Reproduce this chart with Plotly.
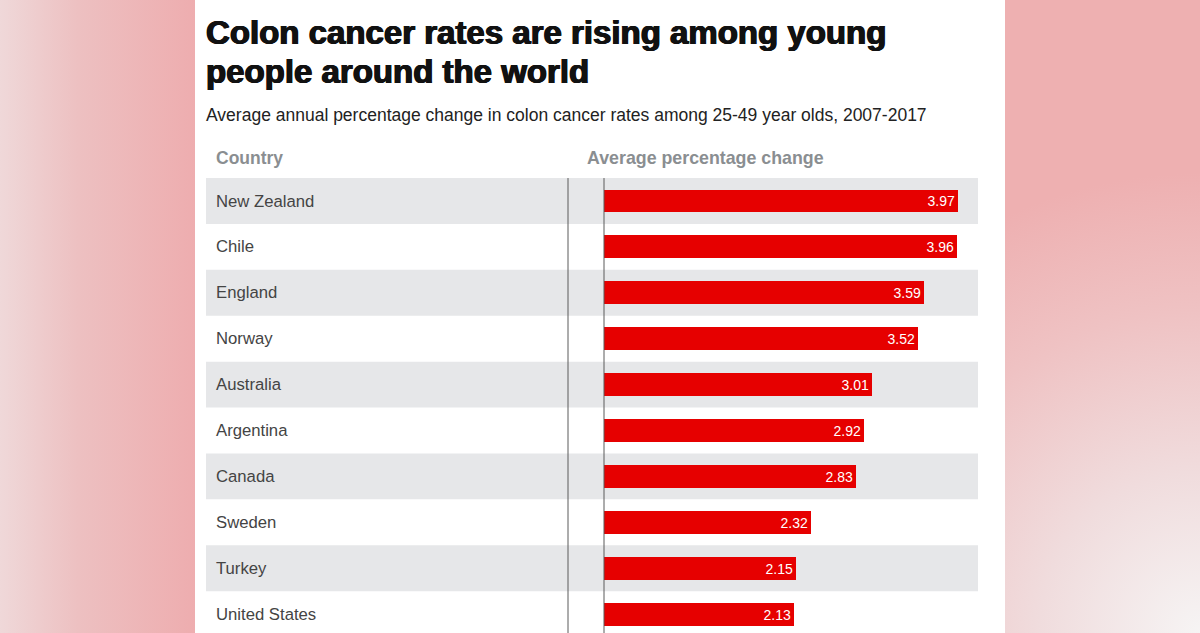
import base64
import plotly.graph_objects as go

countries = ["New Zealand", "Chile", "England", "Norway", "Australia",
             "Argentina", "Canada", "Sweden", "Turkey", "United States"]
values = [3.97, 3.96, 3.59, 3.52, 3.01, 2.92, 2.83, 2.32, 2.15, 2.13]

title_lines = ["Colon cancer rates are rising among young", "people around the world"]
subtitle = "Average annual percentage change in colon cancer rates among 25-49 year olds, 2007-2017"
col_headers = ["Country", "Average percentage change"]

W, H = 1200, 633
FONT = "Liberation Sans, Arial, sans-serif"

svg = f'''<svg xmlns="http://www.w3.org/2000/svg" width="{W}" height="{H}" viewBox="0 0 {W} {H}">
<defs>
<linearGradient id="gl" x1="0" y1="0" x2="1" y2="0">
<stop offset="0" stop-color="#efd8d9"/><stop offset="0.4" stop-color="#edc0c1"/><stop offset="1" stop-color="#eeadaf"/>
</linearGradient>
<radialGradient id="gr" gradientUnits="userSpaceOnUse" cx="1200" cy="633" r="460">
<stop offset="0" stop-color="#f6f4f4"/><stop offset="0.35" stop-color="#f0dcdd"/><stop offset="0.7" stop-color="#efc2c3"/><stop offset="1" stop-color="#eeb0b1"/>
</radialGradient>
</defs>
<rect x="0" y="0" width="195" height="{H}" fill="url(#gl)"/>
<rect x="1005" y="0" width="195" height="{H}" fill="url(#gr)"/>
<rect x="195" y="0" width="810" height="{H}" fill="#ffffff"/>
</svg>'''
src = "data:image/svg+xml;base64," + base64.b64encode(svg.encode()).decode()

# pixel geometry
x_zero = 604
px_per_unit = 89.2
x_right = 978
row0_center = 201
row_h = 45.9

fig = go.Figure()
fig.add_trace(go.Bar(
    x=values, y=countries, orientation="h",
    marker=dict(color="#e60000", line=dict(width=0)),
    width=0.5,
    text=[f"{v:.2f}" for v in values],
    textposition="inside", insidetextanchor="end",
    textfont=dict(color="white", size=14, family=FONT),
    hoverinfo="skip",
))

shapes = []
for i, c in enumerate(countries):
    if i % 2 == 0:
        shapes.append(dict(type="rect", xref="paper", yref="y",
                           x0=206 / W, x1=x_right / W, y0=i - 0.5, y1=i + 0.5,
                           fillcolor="#e6e7e9", line=dict(width=0), layer="below"))
y_top = -0.5
y_bot = len(countries) + 0.5
for xp in (568, x_zero):
    shapes.append(dict(type="line", xref="paper", yref="y",
                       x0=xp / W, x1=xp / W, y0=y_top, y1=y_bot,
                       line=dict(color="#5a5a5a", width=1), layer="above"))

annotations = []
for c in countries:
    annotations.append(dict(xref="paper", yref="y", x=214 / W, y=c, text=c,
                            showarrow=False, xanchor="left", yanchor="middle",
                            font=dict(family=FONT, size=16.7, color="#444444")))
for k, (line, top) in enumerate(zip(title_lines, (12, 51))):
    annotations.append(dict(xref="paper", yref="paper", x=204 / W, y=1 - top / H,
                            text=f"<b>{line}</b>", showarrow=False, xanchor="left", yanchor="top",
                            align="left",
                            font=dict(family=FONT, size=33, color="#111111",
                                      shadow="0.7px 0 0 #111111, -0.7px 0 0 #111111, 0 0.4px 0 #111111")))
annotations.append(dict(xref="paper", yref="paper", x=204 / W, y=1 - 115 / H,
                        text=subtitle, showarrow=False, xanchor="left", yanchor="middle",
                        font=dict(family=FONT, size=17.5, color="#222222")))
annotations.append(dict(xref="paper", yref="paper", x=214 / W, y=1 - 158 / H,
                        text=f"<b>{col_headers[0]}</b>", showarrow=False, xanchor="left", yanchor="middle",
                        font=dict(family=FONT, size=17.5, color="#8a8e91")))
annotations.append(dict(xref="paper", yref="paper", x=585 / W, y=1 - 158 / H,
                        text=f"<b>{col_headers[1]}</b>", showarrow=False, xanchor="left", yanchor="middle",
                        font=dict(family=FONT, size=17.8, color="#8a8e91")))

y_range_top = -row0_center / row_h
y_range_bot = (H - row0_center) / row_h

fig.update_layout(
    width=W, height=H, margin=dict(l=0, r=0, t=0, b=0),
    paper_bgcolor="white", plot_bgcolor="rgba(0,0,0,0)",
    showlegend=False, bargap=0,
    images=[dict(source=src, xref="paper", yref="paper", x=0, y=1,
                 sizex=1, sizey=1, sizing="stretch", layer="below",
                 xanchor="left", yanchor="top")],
    xaxis=dict(domain=[x_zero / W, x_right / W], range=[0, (x_right - x_zero) / px_per_unit],
               visible=False, fixedrange=True),
    yaxis=dict(type="category", categoryorder="array", categoryarray=countries,
               range=[y_range_bot, y_range_top], domain=[0, 1], visible=False, fixedrange=True),
    shapes=shapes, annotations=annotations,
)

fig.write_html("out.html")
